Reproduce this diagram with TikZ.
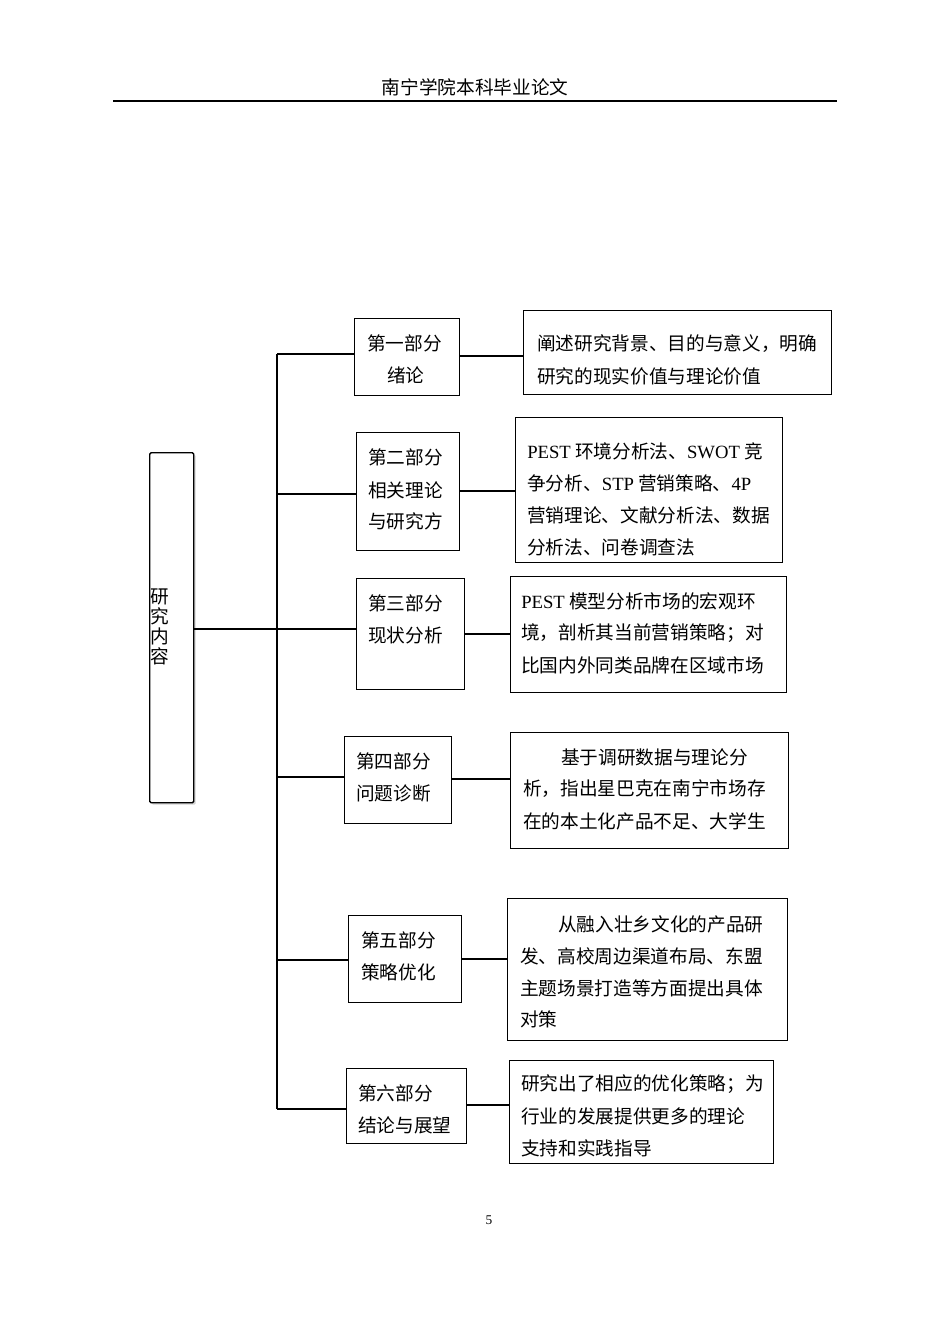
\documentclass[tikz,border=0pt]{standalone}
\usepackage{fontspec}
\setmainfont{Noto Sans CJK SC}
\newfontfamily\lat{Liberation Serif}
\usetikzlibrary{shadows}
\begin{document}
\begin{tikzpicture}[x=0.75pt,y=-0.75pt,
  box/.style={draw,line width=0.8pt,inner sep=0pt,anchor=north west},
  lbox/.style={draw,fill=white,line width=1.1pt,rounded corners=1pt,inner sep=0pt,anchor=north west,drop shadow={shadow xshift=1.5pt,shadow yshift=-1.5pt,opacity=0.35}},
  t/.style={anchor=west,inner sep=0pt,font=\fontsize{14pt}{16pt}\selectfont},
  ln/.style={line width=1pt}]
\useasboundingbox (0,0) rectangle (950,1344);
\node[t,anchor=center] (hd) at (475,87) {南宁学院本科毕业论文};
\draw[line width=0.8pt] (113,101) coordinate (hl) -- (837,101) coordinate (hr);
\node[t,anchor=center,font=\fontsize{10pt}{12pt}\selectfont\lat] (pg) at (489,1220) {5};
% left
\node[lbox,minimum width=44*0.75pt,minimum height=350*0.75pt] (L) at (149,452) {};
\node[inner sep=0pt,align=center,font=\fontsize{14pt}{15pt}\selectfont,anchor=center] (Lt) at (160,627) {研\\究\\内\\容};
% trunk
\coordinate (T0) at (277,354); \coordinate (T6) at (277,1109);
\draw[ln] (T0) -- (T6);
\coordinate (J) at (277,629);
\draw[ln] (L.east |- J) -- (J);
% mid boxes
\node[box,minimum width=105*0.75pt,minimum height=77*0.75pt] (m1) at (354,318) {};
\node[box,minimum width=103*0.75pt,minimum height=118*0.75pt] (m2) at (356,432) {};
\node[box,minimum width=108*0.75pt,minimum height=111*0.75pt] (m3) at (356,578) {};
\node[box,minimum width=107*0.75pt,minimum height=87*0.75pt] (m4) at (344,736) {};
\node[box,minimum width=113*0.75pt,minimum height=87*0.75pt] (m5) at (348,915) {};
\node[box,minimum width=120*0.75pt,minimum height=75*0.75pt] (m6) at (346,1068) {};
% right boxes
\node[box,minimum width=308*0.75pt,minimum height=84*0.75pt] (r1) at (523,310) {};
\node[box,minimum width=267*0.75pt,minimum height=145*0.75pt] (r2) at (515,417) {};
\node[box,minimum width=276*0.75pt,minimum height=116*0.75pt] (r3) at (510,576) {};
\node[box,minimum width=278*0.75pt,minimum height=116*0.75pt] (r4) at (510,732) {};
\node[box,minimum width=280*0.75pt,minimum height=142*0.75pt] (r5) at (507,898) {};
\node[box,minimum width=264*0.75pt,minimum height=103*0.75pt] (r6) at (509,1060) {};
% branches
\coordinate (b1) at (277,354); \coordinate (b2) at (277,494); \coordinate (b3) at (277,629);
\coordinate (b4) at (277,777); \coordinate (b5) at (277,960); \coordinate (b6) at (277,1109);
\draw[ln] (b1) -- (m1.west |- b1);
\draw[ln] (b2) -- (m2.west |- b2);
\draw[ln] (b3) -- (m3.west |- b3);
\draw[ln] (b4) -- (m4.west |- b4);
\draw[ln] (b5) -- (m5.west |- b5);
\draw[ln] (b6) -- (m6.west |- b6);
\coordinate (c1) at (0,356); \coordinate (c2) at (0,491); \coordinate (c3) at (0,634);
\coordinate (c4) at (0,779); \coordinate (c5) at (0,959); \coordinate (c6) at (0,1105);
\draw[ln] (m1.east |- c1) -- (r1.west |- c1);
\draw[ln] (m2.east |- c2) -- (r2.west |- c2);
\draw[ln] (m3.east |- c3) -- (r3.west |- c3);
\draw[ln] (m4.east |- c4) -- (r4.west |- c4);
\draw[ln] (m5.east |- c5) -- (r5.west |- c5);
\draw[ln] (m6.east |- c6) -- (r6.west |- c6);
% mid texts
\node[t] (m1a) at (367,343) {第一部分};
\node[t] (m1b) at (387,375) {绪论};
\node[t] (m2a) at (368,457) {第二部分};
\node[t] (m2b) at (368,490) {相关理论};
\node[t] (m2c) at (368,521) {与研究方};
\node[t] (m3a) at (368,603) {第三部分};
\node[t] (m3b) at (368,635) {现状分析};
\node[t] (m4a) at (356,761) {第四部分};
\node[t] (m4b) at (356,793) {问题诊断};
\node[t] (m5a) at (361,940) {第五部分};
\node[t] (m5b) at (361,972) {策略优化};
\node[t] (m6a) at (358,1093) {第六部分};
\node[t] (m6b) at (358,1125) {结论与展望};
% right texts
\node[t] (r1a) at (537,344) {阐述研究背景、目的与意义，明确};
\node[t] (r1b) at (537,376) {研究的现实价值与理论价值};
\node[t] (r2a) at (527,451) {{\lat PEST} 环境分析法、{\lat SWOT} 竞};
\node[t] (r2b) at (527,483) {争分析、{\lat STP} 营销策略、{\lat 4P}};
\node[t] (r2c) at (527,515) {营销理论、文献分析法、数据};
\node[t] (r2d) at (527,547) {分析法、问卷调查法};
\node[t] (r3a) at (521,601) {{\lat PEST} 模型分析市场的宏观环};
\node[t] (r3b) at (521,633) {境，剖析其当前营销策略；对};
\node[t] (r3c) at (521,665) {比国内外同类品牌在区域市场};
\node[t] (r4a) at (561,757) {基于调研数据与理论分};
\node[t] (r4b) at (523,789) {析，指出星巴克在南宁市场存};
\node[t] (r4c) at (523,821) {在的本土化产品不足、大学生};
\node[t] (r5a) at (558,924) {从融入壮乡文化的产品研};
\node[t] (r5b) at (520,956) {发、高校周边渠道布局、东盟};
\node[t] (r5c) at (520,988) {主题场景打造等方面提出具体};
\node[t] (r5d) at (520,1019) {对策};
\node[t] (r6a) at (521,1084) {研究出了相应的优化策略；为};
\node[t] (r6b) at (521,1116) {行业的发展提供更多的理论};
\node[t] (r6c) at (521,1148) {支持和实践指导};
\end{tikzpicture}
\end{document}
